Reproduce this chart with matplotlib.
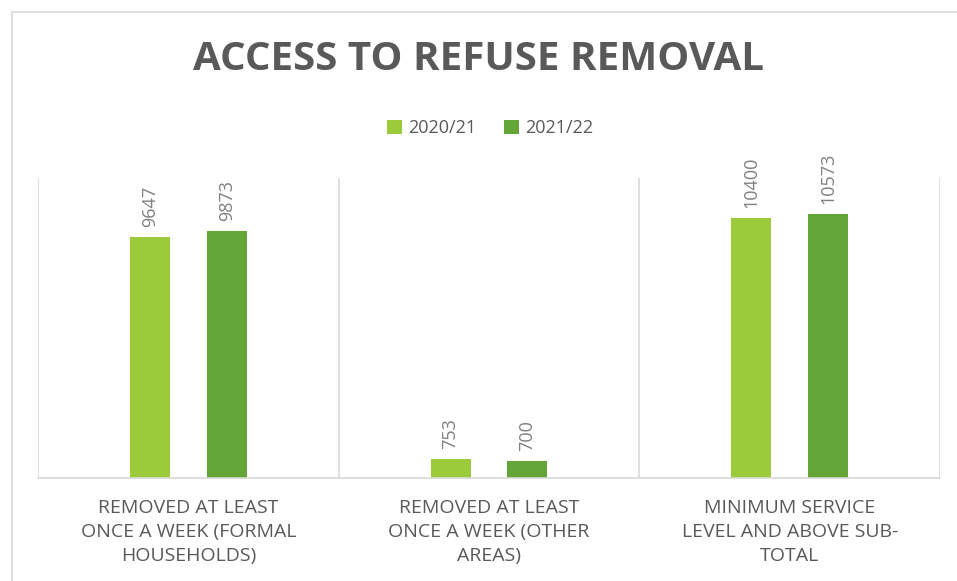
import matplotlib
matplotlib.use("Agg")
import matplotlib.pyplot as plt
import numpy as np
from matplotlib.patches import Rectangle

categories = ["REMOVED AT LEAST\nONCE A WEEK (FORMAL\nHOUSEHOLDS)",
              "REMOVED AT LEAST\nONCE A WEEK (OTHER\nAREAS)",
              "MINIMUM SERVICE\nLEVEL AND ABOVE SUB-\nTOTAL"]
series_names = ["2020/21", "2021/22"]
values_2020 = [9647, 753, 10400]
values_2021 = [9873, 700, 10573]
colors = ["#9BCB3A", "#63A537"]

plt.rcParams['font.family'] = ['Open Sans', 'DejaVu Sans']

fig = plt.figure(figsize=(9.57, 5.81), dpi=100)
# chart frame
fig.patches.append(Rectangle((12/957, -0.1), 1.2, 1 - 12/581 + 0.1, transform=fig.transFigure,
                             fill=False, edgecolor="#D9D9D9", linewidth=1.2))

ax = fig.add_axes([38/957, 1 - 478/581, (940 - 38)/957, 300/581])
x = np.arange(len(categories))
w = 0.133
off = 0.128
b1 = ax.bar(x - off, values_2020, w, color=colors[0], label=series_names[0])
b2 = ax.bar(x + off, values_2021, w, color=colors[1], label=series_names[1])

for bars in (b1, b2):
    for r in bars:
        ax.annotate(str(int(r.get_height())), (r.get_x() + r.get_width()/2, r.get_height()),
                    xytext=(0, 7), textcoords="offset points", rotation=90,
                    ha="center", va="bottom", fontsize=13, color="#7F7F7F")

ax.set_xlim(-0.5, 2.5)
ax.set_ylim(0, 12000)
for xv in [-0.5, 0.5, 1.5, 2.5]:
    ax.axvline(xv, color="#D9D9D9", linewidth=1.2, zorder=0)
for s in ["top", "right", "left"]:
    ax.spines[s].set_visible(False)
ax.spines["bottom"].set_color("#D9D9D9")
ax.spines["bottom"].set_linewidth(1.2)
ax.set_yticks([])
ax.set_xticks(x)
ax.set_xticklabels(categories, fontsize=14, color="#595959", linespacing=1.45)
ax.tick_params(axis="x", length=0, pad=15)

fig.text(0.5, 1 - 60/581, "ACCESS TO REFUSE REMOVAL", ha="center", va="center",
         fontsize=29, fontweight="bold", color="#595959")
fig.legend(loc="center", bbox_to_anchor=(490/957, 1 - 128/581), ncol=2, frameon=False,
           fontsize=13, labelcolor="#595959", handlelength=0.85, handleheight=0.85,
           handletextpad=0.35, columnspacing=1.5)

fig.savefig("out.png", dpi=100)
